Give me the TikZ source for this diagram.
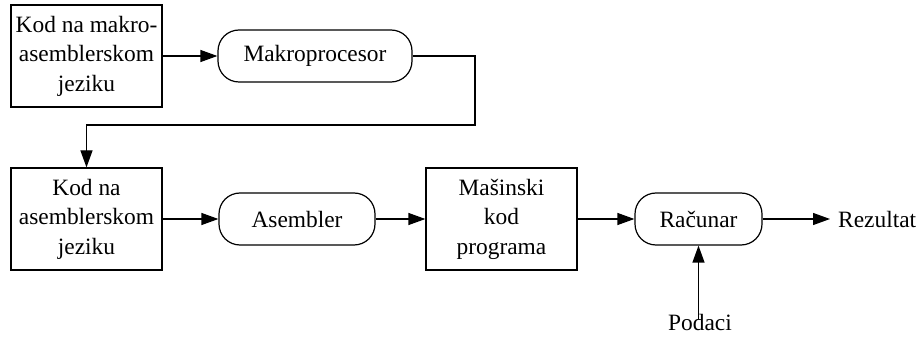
\documentclass[tikz,border=0pt]{standalone}
\usepackage{fontspec}
\setmainfont{Liberation Serif}
\usetikzlibrary{arrows.meta}
\begin{document}
\begin{tikzpicture}[x=1pt,y=1pt,
  every node/.style={font=\fontsize{23.4}{29.5}\selectfont, align=center, inner sep=0pt},
  box/.style={draw, line width=1.2pt, minimum width=151pt, minimum height=102pt},
  proc/.style={draw, line width=1.2pt, rounded corners=21pt, minimum height=52pt},
  flow/.style={line width=1.2pt, -{Triangle[length=17pt,width=12pt]}}]
  \useasboundingbox (0,0) rectangle (922,-339);

  % first row
  \node[box] (src) at (86.5,-56) {Kod na makro-\\asemblerskom\\jeziku};
  \node[proc, minimum width=194pt] (mac) at (315,-56) {Makroprocesor};

  % second row
  \node[box] (asm) at (86.5,-219) {Kod na\\asemblerskom\\jeziku};
  \node[proc, minimum width=156pt] (as) at (297,-219) {Asembler};
  \node[box] (mc) at (501.5,-219) {Mašinski\\kod\\programa};
  \node[proc, minimum width=127pt] (cpu) at (698.5,-219) {Računar};
  \node[anchor=west] (res) at (838,-219) {Rezultat};
  \node (data) at (700,-322) {Podaci};
  \coordinate (turn) at (475,-125);

  \draw[flow] (src) -- (mac);
  \draw[flow] (mac.east) -| (turn) -| (asm.north);
  \draw[flow] (asm) -- (as);
  \draw[flow] (as) -- (mc);
  \draw[flow] (mc) -- (cpu);
  \draw[flow] (cpu.east) -- ([xshift=-8pt]res.west);
  \draw[flow] ([yshift=-5pt]data.north -| cpu.south) -- (cpu.south);
\end{tikzpicture}
\end{document}
